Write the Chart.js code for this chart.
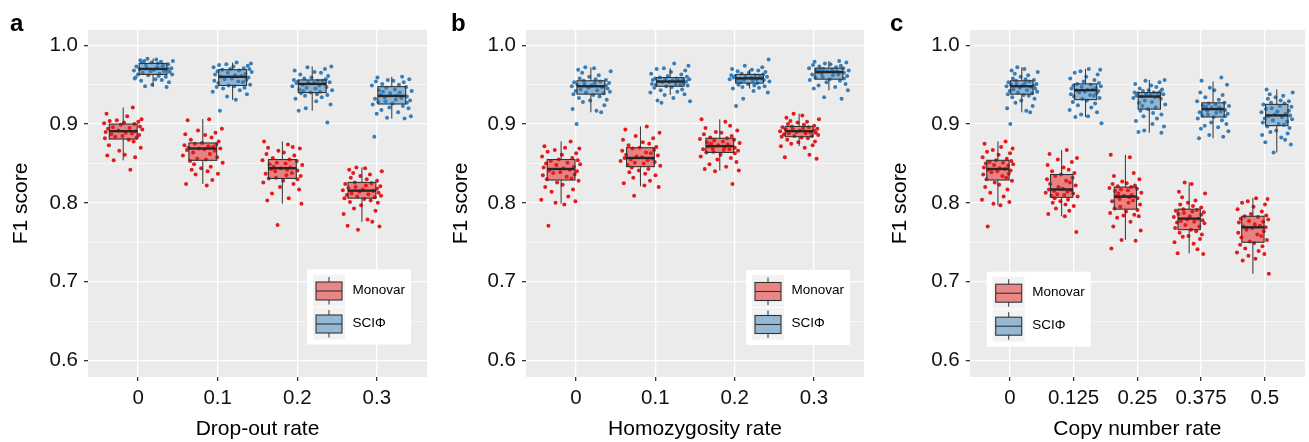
<!DOCTYPE html>
<html>
<head>
<meta charset="utf-8">
<script src="https://cdn.jsdelivr.net/npm/chart.js@4.4.0/dist/chart.umd.min.js"></script>
<style>
body { margin: 0; background: #fff; }
#wrap { position: relative; width: 1309px; height: 442px; font-family: 'Liberation Sans', Arial, sans-serif; }
#wrap canvas { position: absolute; top: 0; }
.tag { position: absolute; top: 11px; font-weight: bold; font-size: 24px; line-height: 24px; color: #000; }
</style>
</head>
<body>
<div id="wrap">
  <canvas id="pa" width="440" height="442" style="left:0px"></canvas>
  <canvas id="pb" width="440" height="442" style="left:440px"></canvas>
  <canvas id="pc" width="440" height="442" style="left:869px"></canvas>
  <div class="tag" style="left:10px">a</div>
  <div class="tag" style="left:451px">b</div>
  <div class="tag" style="left:890px">c</div>
</div>
<script>
// y axis ticks (shared)
var yMajor = [0.6, 0.7, 0.8, 0.9, 1.0]
var yMinor = [0.65, 0.75, 0.85, 0.95]

// panel a: drop-out rate
var aLabels = ['0', '0.1', '0.2', '0.3']
// box stats: [lower whisker, q1, median, q3, upper whisker]
var aMonovarBox = [[0.854,0.881,0.891,0.900,0.921],[0.824,0.854,0.869,0.876,0.9065],[0.799,0.831,0.844,0.855,0.878],[0.776,0.806,0.8155,0.826,0.845]]
var aSciphiBox = [[0.9475,0.963,0.970,0.977,0.983],[0.9306,0.949,0.960,0.969,0.978],[0.917,0.940,0.951,0.956,0.973],[0.907,0.9255,0.9357,0.9475,0.960]]
var aMonovar = [
  [0.921,0.913,0.910,0.906,0.905,0.904,0.903,0.902,0.901,0.900,0.899,0.897,0.896,0.895,0.894,0.893,0.892,0.891,0.890,0.889,0.888,0.887,0.886,0.885,0.884,0.883,0.882,0.880,0.878,0.873,0.870,0.866,0.861,0.860,0.858,0.854,0.842],
  [0.906,0.905,0.894,0.892,0.889,0.887,0.886,0.883,0.880,0.878,0.876,0.875,0.874,0.873,0.872,0.871,0.870,0.869,0.869,0.868,0.867,0.866,0.864,0.862,0.860,0.858,0.856,0.855,0.853,0.851,0.849,0.846,0.844,0.842,0.840,0.837,0.836,0.829,0.824,0.822],
  [0.878,0.874,0.871,0.870,0.869,0.866,0.864,0.862,0.860,0.857,0.855,0.854,0.853,0.851,0.850,0.849,0.848,0.846,0.845,0.844,0.843,0.842,0.841,0.840,0.838,0.837,0.835,0.834,0.832,0.831,0.830,0.828,0.826,0.824,0.820,0.817,0.812,0.806,0.803,0.799,0.772],
  [0.845,0.844,0.842,0.840,0.838,0.836,0.834,0.832,0.830,0.828,0.826,0.825,0.824,0.822,0.821,0.820,0.819,0.818,0.817,0.816,0.815,0.814,0.813,0.812,0.811,0.810,0.809,0.808,0.807,0.806,0.805,0.803,0.801,0.800,0.797,0.793,0.790,0.786,0.779,0.776,0.771,0.770,0.766]
]
var aSciphi = [
  [0.983,0.982,0.981,0.980,0.980,0.979,0.978,0.978,0.977,0.976,0.975,0.974,0.973,0.972,0.971,0.971,0.970,0.970,0.969,0.968,0.967,0.967,0.966,0.965,0.964,0.963,0.963,0.962,0.960,0.959,0.957,0.956,0.955,0.953,0.950,0.948,0.947,0.958,0.961,0.975],
  [0.978,0.977,0.976,0.975,0.974,0.973,0.972,0.971,0.970,0.970,0.969,0.968,0.967,0.966,0.965,0.964,0.963,0.962,0.961,0.960,0.959,0.958,0.957,0.956,0.955,0.954,0.953,0.952,0.950,0.949,0.948,0.947,0.946,0.945,0.943,0.941,0.938,0.935,0.931,0.917],
  [0.973,0.972,0.970,0.968,0.966,0.965,0.963,0.961,0.959,0.958,0.957,0.956,0.955,0.955,0.954,0.953,0.953,0.952,0.952,0.951,0.950,0.949,0.948,0.947,0.946,0.945,0.944,0.943,0.942,0.941,0.940,0.939,0.938,0.937,0.936,0.934,0.932,0.929,0.925,0.920,0.917,0.902],
  [0.960,0.959,0.957,0.956,0.955,0.954,0.953,0.951,0.950,0.949,0.947,0.946,0.944,0.943,0.942,0.941,0.940,0.939,0.937,0.936,0.935,0.934,0.933,0.932,0.931,0.930,0.929,0.928,0.927,0.926,0.925,0.923,0.921,0.920,0.918,0.915,0.913,0.910,0.908,0.907,0.884]
]

// panel b: homozygosity rate
var bLabels = ['0', '0.1', '0.2', '0.3']
var bMonovarBox = [[0.799,0.829,0.843,0.855,0.878],[0.821,0.846,0.857,0.870,0.897],[0.841,0.864,0.872,0.882,0.906],[0.872,0.884,0.891,0.897,0.913]]
var bSciphiBox = [[0.915,0.938,0.948,0.955,0.972],[0.937,0.948,0.954,0.959,0.971],[0.945,0.952,0.958,0.963,0.969],[0.943,0.957,0.966,0.971,0.980]]
var bMonovar = [
  [0.878,0.872,0.870,0.869,0.867,0.865,0.863,0.861,0.859,0.857,0.855,0.854,0.853,0.851,0.850,0.849,0.848,0.846,0.845,0.844,0.842,0.841,0.840,0.839,0.838,0.836,0.835,0.833,0.831,0.830,0.828,0.826,0.823,0.820,0.817,0.814,0.808,0.804,0.802,0.800,0.798,0.771],
  [0.897,0.893,0.889,0.885,0.882,0.880,0.877,0.875,0.873,0.871,0.870,0.869,0.867,0.866,0.864,0.863,0.861,0.860,0.859,0.858,0.857,0.856,0.855,0.854,0.853,0.852,0.851,0.850,0.848,0.847,0.845,0.843,0.841,0.839,0.837,0.835,0.832,0.828,0.825,0.822,0.820,0.809],
  [0.906,0.903,0.898,0.895,0.892,0.890,0.889,0.887,0.885,0.883,0.882,0.881,0.880,0.879,0.878,0.877,0.876,0.875,0.874,0.873,0.872,0.871,0.870,0.869,0.868,0.868,0.867,0.866,0.865,0.864,0.863,0.861,0.859,0.857,0.855,0.852,0.849,0.846,0.843,0.841,0.840,0.824],
  [0.913,0.911,0.908,0.906,0.904,0.903,0.902,0.900,0.899,0.898,0.897,0.896,0.896,0.895,0.894,0.894,0.893,0.892,0.892,0.891,0.890,0.890,0.889,0.888,0.888,0.887,0.886,0.885,0.885,0.884,0.883,0.882,0.880,0.878,0.877,0.875,0.873,0.872,0.870,0.861,0.858,0.856]
]
var bSciphi = [
  [0.972,0.971,0.969,0.967,0.965,0.962,0.960,0.958,0.957,0.956,0.955,0.954,0.953,0.952,0.952,0.951,0.950,0.949,0.949,0.948,0.947,0.946,0.945,0.944,0.943,0.942,0.941,0.940,0.939,0.938,0.937,0.935,0.933,0.931,0.930,0.928,0.924,0.919,0.917,0.915,0.900],
  [0.977,0.974,0.971,0.970,0.968,0.966,0.964,0.963,0.961,0.960,0.959,0.958,0.958,0.957,0.957,0.956,0.956,0.955,0.955,0.954,0.954,0.953,0.953,0.952,0.951,0.951,0.950,0.950,0.949,0.948,0.947,0.946,0.944,0.943,0.941,0.940,0.938,0.937,0.933,0.930,0.929,0.927],
  [0.982,0.974,0.972,0.970,0.969,0.968,0.967,0.966,0.965,0.964,0.963,0.962,0.962,0.961,0.961,0.960,0.960,0.959,0.959,0.958,0.958,0.957,0.957,0.956,0.956,0.955,0.955,0.954,0.953,0.952,0.951,0.950,0.949,0.948,0.947,0.946,0.945,0.942,0.940,0.932,0.923],
  [0.980,0.979,0.978,0.977,0.976,0.975,0.974,0.973,0.972,0.971,0.971,0.970,0.969,0.969,0.968,0.968,0.967,0.967,0.966,0.966,0.965,0.964,0.963,0.963,0.962,0.961,0.960,0.959,0.958,0.957,0.956,0.955,0.953,0.951,0.949,0.947,0.945,0.943,0.934,0.932]
]

// panel c: copy number rate
var cLabels = ['0', '0.125', '0.25', '0.375', '0.5']
var cMonovarBox = [[0.797,0.829,0.843,0.854,0.878],[0.783,0.807,0.817,0.836,0.867],[0.753,0.792,0.808,0.820,0.861],[0.736,0.766,0.780,0.792,0.826],[0.710,0.750,0.769,0.783,0.806]]
var cSciphiBox = [[0.915,0.938,0.948,0.955,0.972],[0.909,0.931,0.943,0.951,0.970],[0.889,0.919,0.935,0.940,0.956],[0.882,0.909,0.919,0.927,0.954],[0.864,0.898,0.911,0.925,0.944]]
var cMonovar = [
  [0.878,0.875,0.871,0.869,0.867,0.865,0.863,0.861,0.858,0.856,0.854,0.853,0.852,0.851,0.850,0.849,0.848,0.847,0.845,0.844,0.843,0.842,0.841,0.840,0.839,0.837,0.836,0.834,0.832,0.830,0.828,0.826,0.823,0.820,0.817,0.813,0.808,0.804,0.801,0.799,0.797,0.770],
  [0.867,0.862,0.857,0.855,0.852,0.848,0.845,0.842,0.840,0.838,0.836,0.834,0.832,0.830,0.828,0.826,0.824,0.822,0.820,0.818,0.817,0.816,0.815,0.814,0.813,0.812,0.811,0.810,0.809,0.808,0.806,0.804,0.802,0.800,0.798,0.796,0.793,0.790,0.786,0.783,0.763],
  [0.861,0.858,0.838,0.834,0.830,0.827,0.825,0.824,0.822,0.821,0.820,0.819,0.818,0.817,0.816,0.815,0.813,0.812,0.810,0.809,0.808,0.807,0.806,0.805,0.803,0.802,0.800,0.798,0.795,0.793,0.791,0.789,0.787,0.785,0.784,0.783,0.781,0.776,0.770,0.765,0.753,0.752,0.742],
  [0.826,0.824,0.814,0.812,0.807,0.803,0.800,0.798,0.796,0.794,0.792,0.791,0.790,0.789,0.788,0.787,0.786,0.785,0.783,0.782,0.780,0.779,0.778,0.777,0.776,0.775,0.774,0.772,0.770,0.768,0.766,0.764,0.762,0.760,0.758,0.757,0.754,0.750,0.748,0.741,0.736,0.735],
  [0.806,0.805,0.802,0.800,0.798,0.795,0.792,0.789,0.786,0.784,0.783,0.782,0.780,0.779,0.777,0.776,0.775,0.773,0.771,0.770,0.769,0.768,0.766,0.764,0.762,0.760,0.758,0.756,0.753,0.751,0.749,0.747,0.745,0.742,0.739,0.737,0.735,0.733,0.729,0.727,0.710]
]
var cSciphi = [
  [0.972,0.970,0.968,0.966,0.964,0.962,0.960,0.958,0.957,0.956,0.955,0.954,0.953,0.952,0.951,0.951,0.950,0.949,0.949,0.948,0.947,0.946,0.945,0.944,0.943,0.942,0.941,0.940,0.939,0.938,0.937,0.936,0.934,0.932,0.930,0.927,0.923,0.920,0.917,0.915,0.900],
  [0.970,0.969,0.967,0.965,0.963,0.960,0.958,0.956,0.954,0.952,0.951,0.950,0.949,0.948,0.947,0.946,0.945,0.944,0.944,0.943,0.942,0.941,0.940,0.939,0.938,0.937,0.936,0.935,0.933,0.932,0.930,0.928,0.926,0.924,0.921,0.918,0.915,0.912,0.910,0.909,0.901],
  [0.956,0.955,0.953,0.951,0.949,0.947,0.945,0.944,0.943,0.942,0.941,0.940,0.940,0.939,0.939,0.938,0.938,0.937,0.936,0.935,0.935,0.934,0.933,0.932,0.930,0.928,0.927,0.925,0.923,0.921,0.919,0.917,0.914,0.912,0.910,0.907,0.904,0.900,0.897,0.892,0.890,0.889],
  [0.959,0.955,0.950,0.946,0.943,0.940,0.937,0.934,0.931,0.929,0.927,0.926,0.925,0.924,0.923,0.922,0.921,0.921,0.920,0.919,0.918,0.917,0.916,0.915,0.914,0.913,0.912,0.911,0.910,0.909,0.907,0.905,0.902,0.900,0.898,0.896,0.894,0.891,0.886,0.884,0.882],
  [0.944,0.940,0.938,0.936,0.934,0.932,0.930,0.929,0.927,0.926,0.925,0.923,0.922,0.920,0.919,0.917,0.916,0.915,0.913,0.912,0.911,0.910,0.909,0.907,0.906,0.905,0.903,0.902,0.900,0.899,0.897,0.895,0.892,0.890,0.888,0.886,0.883,0.880,0.877,0.874,0.864]
]

// fixed horizontal jitter pattern (category units)
var jitter = [0.12,-0.21,0.05,0.23,-0.08,-0.17,0.19,0.01,-0.24,0.14,-0.03,0.21,-0.13,0.08,-0.19,0.24,-0.06,0.16,-0.22,0.03,
  0.11,-0.15,0.20,-0.01,-0.10,0.17,-0.23,0.07,0.13,-0.18,0.22,-0.05,0.02,-0.20,0.15,-0.12,0.09,-0.25,0.18,-0.07,
  0.04,-0.16,0.25,-0.11,0.10,-0.02,-0.14,0.06,0.19,-0.09]

var FONT = "'Liberation Sans', Arial, sans-serif"
var RED = '#E41A1C', BLUE = '#377EB8'
var RED_FILL = 'rgba(228,26,28,0.5)', BLUE_FILL = 'rgba(55,126,184,0.5)'
var DODGE = 0.1875, BOX_HALF = 0.175

var bgPlugin = {
  id: 'panelBg',
  beforeDraw: function(chart) {
    var a = chart.chartArea, ctx = chart.ctx
    ctx.save()
    ctx.fillStyle = '#EBEBEB'
    ctx.fillRect(a.left, a.top, a.right - a.left, a.bottom - a.top)
    ctx.restore()
  }
}

var boxPlugin = {
  id: 'boxes',
  afterDatasetsDraw: function(chart, args, o) {
    var ctx = chart.ctx, x = chart.scales.x, y = chart.scales.y
    ctx.save()
    o.series.forEach(function(s) {
      s.stats.forEach(function(st, i) {
        var cx = i + s.dodge
        var x0 = x.getPixelForValue(cx - BOX_HALF), x1 = x.getPixelForValue(cx + BOX_HALF), xm = x.getPixelForValue(cx)
        var lo = y.getPixelForValue(st[0]), q1 = y.getPixelForValue(st[1]), md = y.getPixelForValue(st[2])
        var q3 = y.getPixelForValue(st[3]), hi = y.getPixelForValue(st[4])
        ctx.strokeStyle = '#333'
        ctx.lineWidth = 1
        ctx.beginPath()
        ctx.moveTo(xm, q3); ctx.lineTo(xm, hi)
        ctx.moveTo(xm, q1); ctx.lineTo(xm, lo)
        ctx.stroke()
        ctx.fillStyle = s.fill
        ctx.fillRect(x0, q3, x1 - x0, q1 - q3)
        ctx.lineWidth = 1.1
        ctx.strokeRect(x0, q3, x1 - x0, q1 - q3)
        ctx.lineWidth = 2.4
        ctx.strokeStyle = '#262626'
        ctx.beginPath()
        ctx.moveTo(x0, md); ctx.lineTo(x1, md)
        ctx.stroke()
      })
    })
    ctx.restore()
  }
}

var legendPlugin = {
  id: 'boxLegend',
  afterDraw: function(chart, args, o) {
    var ctx = chart.ctx, L = o.x, T = o.y
    ctx.save()
    ctx.fillStyle = '#fff'
    ctx.fillRect(L, T, 104, 75)
    o.items.forEach(function(it, k) {
      var top = T + 5 + k * 33
      ctx.fillStyle = '#F2F2F2'
      ctx.fillRect(L + 6, top, 32, 32)
      ctx.strokeStyle = '#333'
      ctx.lineWidth = 1
      ctx.beginPath()
      ctx.moveTo(L + 22, top + 2.5); ctx.lineTo(L + 22, top + 7.5)
      ctx.moveTo(L + 22, top + 25.5); ctx.lineTo(L + 22, top + 30)
      ctx.stroke()
      ctx.fillStyle = it.fill
      ctx.fillRect(L + 9, top + 7.5, 26, 18)
      ctx.lineWidth = 1.1
      ctx.strokeRect(L + 9, top + 7.5, 26, 18)
      ctx.beginPath()
      ctx.moveTo(L + 9, top + 16.5); ctx.lineTo(L + 35, top + 16.5)
      ctx.stroke()
      ctx.fillStyle = '#000'
      ctx.font = '13.5px ' + FONT
      ctx.textBaseline = 'middle'
      ctx.textAlign = 'left'
      ctx.fillText(it.text, L + 45.5, top + 15.5)
    })
    ctx.restore()
  }
}

function jitterPoints(groups, dodge, shift) {
  var out = []
  groups.forEach(function(vals, i) {
    vals.forEach(function(v, j) {
      out.push({ x: i + dodge + jitter[(j + (i + shift) * 13) % jitter.length], y: v })
    })
  })
  return out
}

function isMajor(v) {
  return yMajor.indexOf(v) !== -1
}

function makePanel(id, labels, mono, sci, monoBox, sciBox, p) {
  var ctx = document.getElementById(id)
  new Chart(ctx, {
    type: 'scatter',
    data: {
      datasets: [{
        label: 'Monovar',
        data: jitterPoints(mono, -DODGE, 0),
        pointRadius: 2,
        pointBorderWidth: 0,
        pointBackgroundColor: RED
      }, {
        label: 'SCIΦ',
        data: jitterPoints(sci, DODGE, 3),
        pointRadius: 2,
        pointBorderWidth: 0,
        pointBackgroundColor: BLUE
      }]
    },
    plugins: [bgPlugin, boxPlugin, legendPlugin],
    options: {
      responsive: false,
      animation: false,
      events: [],
      layout: { padding: { top: 30, right: p.rightPad, left: 0, bottom: 0 } },
      plugins: {
        legend: { display: false },
        tooltip: { enabled: false },
        boxes: { series: [{ stats: monoBox, dodge: -DODGE, fill: RED_FILL }, { stats: sciBox, dodge: DODGE, fill: BLUE_FILL }] },
        boxLegend: { x: p.legend[0], y: p.legend[1], items: [{ text: 'Monovar', fill: RED_FILL }, { text: 'SCIΦ', fill: BLUE_FILL }] }
      },
      scales: {
        x: {
          type: 'linear',
          min: -0.63,
          max: labels.length - 1 + 0.63,
          afterBuildTicks: function(ax) { ax.ticks = labels.map(function(l, i) { return { value: i } }) },
          afterFit: function(ax) { ax.height = 65 },
          ticks: {
            callback: function(v, i) { return labels[i] },
            autoSkip: false, maxRotation: 0, padding: 5,
            color: '#111', font: { size: 20.5, family: FONT }
          },
          grid: { color: '#fff', lineWidth: 1.3, tickColor: '#333', tickLength: 4 },
          border: { display: false },
          title: { display: true, text: p.xTitle, color: '#000', font: { size: 21, family: FONT }, padding: { top: 0, bottom: 0 } }
        },
        y: {
          min: 0.579,
          max: 1.0194,
          afterBuildTicks: function(ax) {
            ax.ticks = yMajor.concat(yMinor).sort().map(function(v) { return { value: v } })
          },
          afterFit: function(ax) { ax.width = p.yWidth },
          ticks: {
            callback: function(v) { return isMajor(v) ? v.toFixed(1) : '' },
            autoSkip: false, padding: 6,
            color: '#111', font: { size: 20.5, family: FONT }
          },
          grid: {
            color: '#fff',
            lineWidth: function(c) { return c.tick && isMajor(c.tick.value) ? 1.3 : 0.6 },
            tickColor: function(c) { return c.tick && isMajor(c.tick.value) ? '#333' : 'rgba(0,0,0,0)' },
            tickLength: 4
          },
          border: { display: false },
          title: { display: true, text: 'F1 score', color: '#000', font: { size: 21, family: FONT }, padding: { top: p.yTitlePad, bottom: 0 } }
        }
      }
    }
  })
}

makePanel('pa', aLabels, aMonovar, aSciphi, aMonovarBox, aSciphiBox,
  { xTitle: 'Drop-out rate', yWidth: 88, rightPad: 13, yTitlePad: 8.7, legend: [307, 269.5] })
makePanel('pb', bLabels, bMonovar, bSciphi, bMonovarBox, bSciphiBox,
  { xTitle: 'Homozygosity rate', yWidth: 86, rightPad: 16, yTitlePad: 8.7, legend: [306, 270] })
makePanel('pc', cLabels, cMonovar, cSciphi, cMonovarBox, cSciphiBox,
  { xTitle: 'Copy number rate', yWidth: 100.7, rightPad: 0, yTitlePad: 19.1, legend: [117.7, 271.7] })
</script>
</body>
</html>
